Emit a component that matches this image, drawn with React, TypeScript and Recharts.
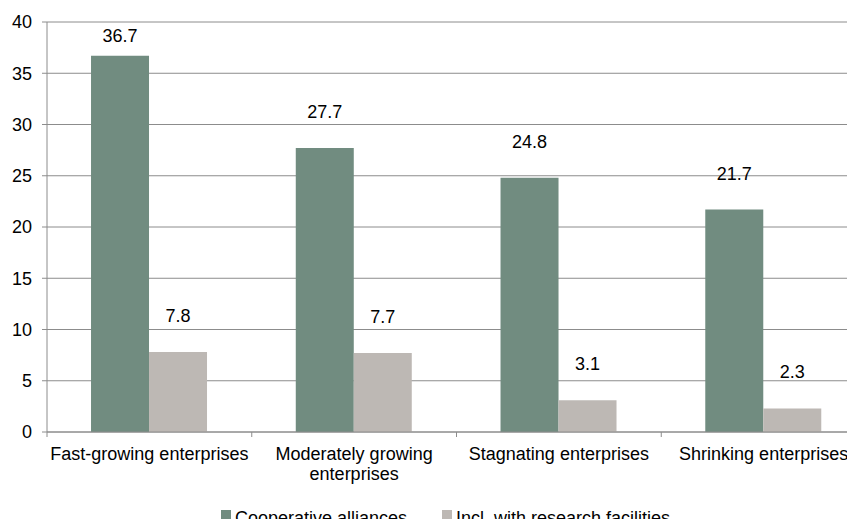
import React from 'react';
import { BarChart, Bar, XAxis, YAxis, CartesianGrid, Legend, LabelList, Text } from 'recharts';

const categories = [
  'Fast-growing enterprises',
  'Moderately growing enterprises',
  'Stagnating enterprises',
  'Shrinking enterprises',
];
const cooperativeAlliances = [36.7, 27.7, 24.8, 21.7];
const withResearchFacilities = [7.8, 7.7, 3.1, 2.3];
const yTicks = [0, 5, 10, 15, 20, 25, 30, 35, 40];
const seriesNames = ['Cooperative alliances', 'Incl. with research facilities'];

const data = categories.map((c, i) => ({
  category: c,
  coop: cooperativeAlliances[i],
  research: withResearchFacilities[i],
}));

const FONT = '"Liberation Sans", Arial, sans-serif';
const COLORS = ['#718C80', '#BDB8B4'];
const AXIS = '#8c8c8c';

const XTick = (props: any) => {
  const { x, y, payload } = props;
  const half = payload && payload.offset != null ? payload.offset : 0;
  return (
    <g>
      <line x1={x - half} x2={x - half} y1={y} y2={y + 5} stroke={AXIS} strokeWidth={1} />
      <Text
        x={x}
        y={y + 15}
        width={half * 2}
        textAnchor="middle"
        verticalAnchor="start"
        lineHeight={20}
        fontSize={18}
        fontFamily={FONT}
        style={{ fontSize: 18, fontFamily: FONT }}
        fill="#000"
      >
        {payload.value}
      </Text>
    </g>
  );
};

const BarLabel = (props: any) => {
  const { x, y, width, value } = props;
  const baseline = Math.max(Number(y) - 30, 34);
  return (
    <text
      x={Number(x) + Number(width) / 2}
      y={baseline}
      textAnchor="middle"
      fontSize={18}
      fontFamily={FONT}
      fill="#000"
    >
      {value}
    </text>
  );
};

const LegendContent = () => (
  <div
    style={{
      display: 'flex',
      justifyContent: 'center',
      gap: 35,
      fontFamily: FONT,
      fontSize: 18,
      height: 24,
      lineHeight: '24px',
      color: '#000',
    }}
  >
    {seriesNames.map((n, i) => (
      <div key={n} style={{ display: 'flex', alignItems: 'flex-start' }}>
        <span
          style={{
            width: 10,
            height: 10,
            background: COLORS[i],
            marginRight: 4,
            marginTop: 4,
            display: 'inline-block',
          }}
        />
        <span>{n}</span>
      </div>
    ))}
  </div>
);

export default function App() {
  return (
    <div style={{ width: 847, height: 511, overflow: 'hidden' }}>
      <BarChart
        width={870}
        height={530}
        data={data}
        margin={{ top: 14, right: 12, bottom: 22, left: 0 }}
        barCategoryGap="21.5%"
        barGap={0}
      >
        <CartesianGrid vertical={false} stroke={AXIS} strokeWidth={1} />
        <XAxis
          dataKey="category"
          height={60}
          stroke={AXIS}
          tickLine={false}
          tickSize={0}
          tickMargin={0}
          interval={0}
          tick={<XTick />}
        />
        <YAxis
          width={39}
          domain={[0, 40]}
          ticks={yTicks}
          stroke={AXIS}
          tickSize={5}
          tickMargin={10}
          tick={{ fontSize: 18, fill: '#000', fontFamily: FONT }}
          interval={0}
        />
        <Legend
          verticalAlign="bottom"
          height={24}
          content={<LegendContent />}
          wrapperStyle={{ top: 498, left: 0, width: 875 }}
        />
        <Bar dataKey="coop" name={seriesNames[0]} fill={COLORS[0]} isAnimationActive={false}>
          <LabelList dataKey="coop" content={<BarLabel />} />
        </Bar>
        <Bar dataKey="research" name={seriesNames[1]} fill={COLORS[1]} isAnimationActive={false}>
          <LabelList dataKey="research" content={<BarLabel />} />
        </Bar>
      </BarChart>
    </div>
  );
}
